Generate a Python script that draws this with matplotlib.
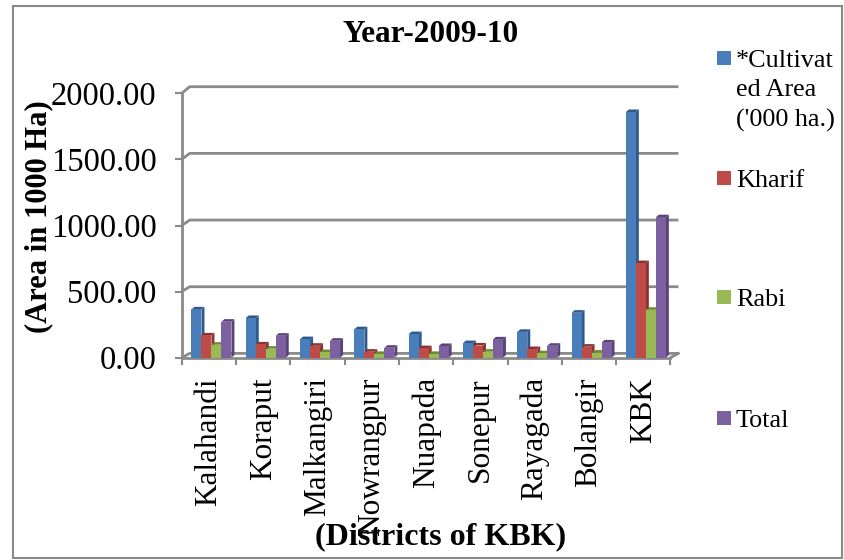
import numpy as np
import matplotlib
matplotlib.use("Agg")
import matplotlib.pyplot as plt
from matplotlib.patches import Polygon, Rectangle

# Area figures for the KBK districts, 2009-10 (in '000 ha)
districts = ['Kalahandi', 'Koraput', 'Malkangiri', 'Nowrangpur', 'Nuapada',
             'Sonepur', 'Rayagada', 'Bolangir', 'KBK']
cultivated = [365, 300, 140, 215, 178, 110, 195, 340, 1858]
kharif = [168, 100, 90, 45, 72, 92, 65, 83, 715]
rabi = [98, 68, 42, 28, 28, 45, 33, 38, 362]
total = [272, 166, 128, 75, 88, 138, 90, 115, 1062]

series_names = [["*Cultivat", "ed Area", "('000 ha.)"], ['Kharif'], ['Rabi'], ['Total']]
series = [cultivated, kharif, rabi, total]
front_cols = ['#4A7EBB', '#BE4B48', '#98B954', '#7D60A0']
dark_cols = ['#2F5A8C', '#8A3331', '#6E8A37', '#59447A']

W, H = 845, 560
serif = 'Liberation Serif'
grey = '#8A8A8A'

fig = plt.figure(figsize=(W / 100, H / 100), dpi=100)

# plot area in pixel terms
x_left, x_right = 181.7, 670.4
y_top, y_bot = 93.3, 357.7
ax = fig.add_axes([x_left / W, (H - y_bot) / H, (x_right - x_left) / W, (y_bot - y_top) / H])
ax.set_xlim(0, len(districts))
ax.set_ylim(0, 2000)
ax.patch.set_visible(False)


def px(dx, dy):
    """pixel offset -> data units offset"""
    inv = ax.transData.inverted()
    x0, y0 = ax.transData.transform((0, 0))
    x1, y1 = inv.transform((x0 + dx, y0 + dy))
    return x1, y1


# back wall gridlines with small perspective
yticks = [0, 500, 1000, 1500, 2000]
for v in yticks:
    dxp, dyp = px(8, 4.3 + 2.3 * v / 2000)
    ax.plot([0, dxp, len(districts) + dxp], [v, v + dyp, v + dyp],
            color=grey, lw=2, clip_on=False, zorder=1, solid_capstyle='butt')
dxp, dyp = px(8, 4.3)
ax.plot([len(districts), len(districts) + dxp], [0, dyp], color=grey, lw=2,
        clip_on=False, zorder=1)

# 3d-ish bars
bw = 0.184
start = 0.18
ex, ey = px(3, 2.6)
for i in range(len(districts)):
    for k, vals in enumerate(series):
        x0 = i + start + k * bw
        x1 = x0 + bw
        h = vals[i]
        side = Polygon([(x1, 0), (x1 + ex, ey), (x1 + ex, h + ey), (x1, h)],
                       closed=True, fc=dark_cols[k], ec='none', zorder=3)
        top = Polygon([(x0, h), (x0 + ex, h + ey), (x1 + ex, h + ey), (x1, h)],
                      closed=True, fc=dark_cols[k], ec='none', zorder=3)
        ax.add_patch(side)
        ax.add_patch(top)
        ax.bar(x0, h, width=bw, align='edge', color=front_cols[k], zorder=3)

for s in ['top', 'right']:
    ax.spines[s].set_visible(False)
for s in ['left', 'bottom']:
    ax.spines[s].set_color(grey)
    ax.spines[s].set_linewidth(2)
    ax.spines[s].set_zorder(2)

ax.set_yticks(yticks)
ax.set_yticklabels(['%.2f' % v for v in yticks], fontsize=23.5, family=serif)
ax.tick_params(axis='y', length=5, width=1.5, color=grey, pad=13)

ax.set_xticks(np.arange(len(districts)) + 0.5)
ax.set_xticklabels(districts, rotation=90, fontsize=22.5, family=serif)
ax.set_xticks(np.arange(len(districts) + 1), minor=True)
ax.tick_params(axis='x', which='major', length=0, pad=14)
ax.tick_params(axis='x', which='minor', length=5, width=1.5, color=grey)

# overlay in pixel coordinates for titles, legend and border
ov = fig.add_axes([0, 0, 1, 1])
ov.set_xlim(0, W)
ov.set_ylim(H, 0)
ov.axis('off')
ov.patch.set_visible(False)

ov.add_patch(Rectangle((13, 6), 829, 552, fill=False, ec=grey, lw=1.5))
ov.text(431, 35, 'Year-2009-10', ha='center', va='center', fontsize=22.5,
        fontweight='bold', family=serif)
ov.text(39, 217, '(Area in 1000 Ha)', ha='center', va='center', rotation=90,
        fontsize=22, fontweight='bold', family=serif)
ov.text(441, 537, '(Districts of KBK)', ha='center', va='center', fontsize=23,
        fontweight='bold', family=serif)

legend_y = [58, 178, 297, 418]
for lines, c, ly in zip(series_names, front_cols, legend_y):
    ov.add_patch(Rectangle((717, ly - 7), 14, 14, fc=c, ec='none'))
    for j, line in enumerate(lines):
        ov.text(736, ly + 3 + 29.5 * j, line, ha='left', va='center',
                fontsize=18.8, family=serif)

fig.savefig('out.png', dpi=100)
